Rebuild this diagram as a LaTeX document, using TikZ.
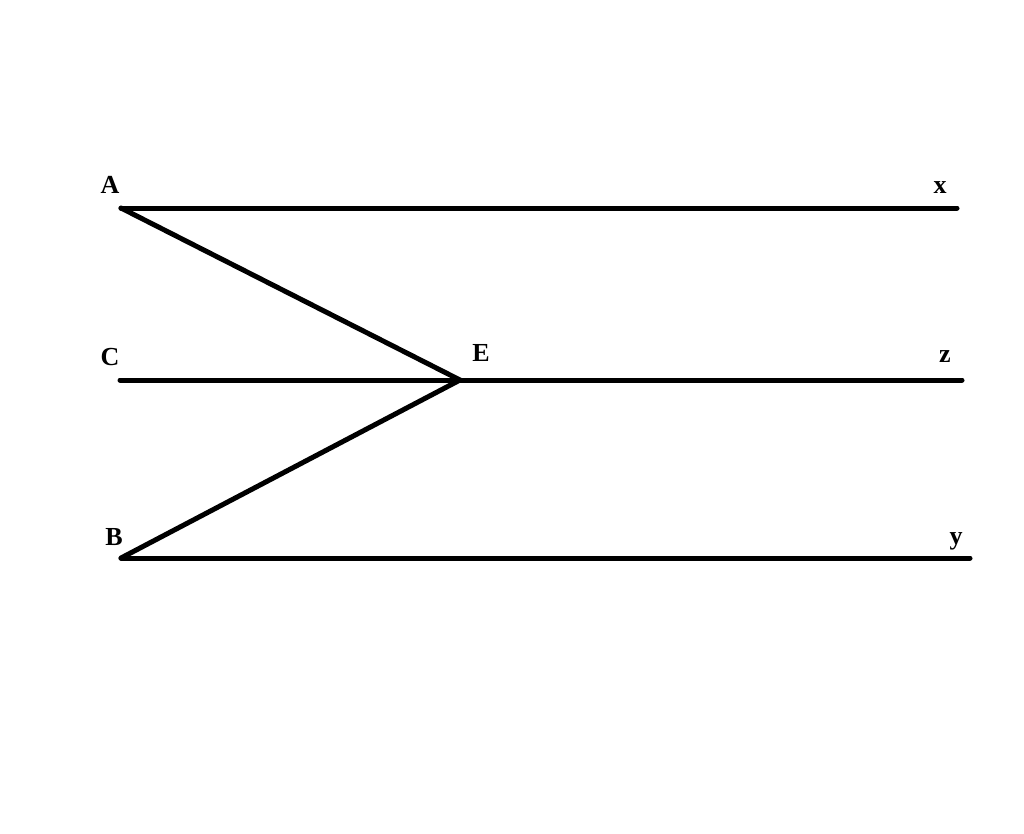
\documentclass[tikz,border=0pt]{standalone}
\usepackage{fontspec}
\setmainfont{Liberation Serif}
\begin{document}
\begin{tikzpicture}[x=1pt,y=-1pt,ln/.style={line width=5pt,line cap=round},lab/.style={font=\fontsize{26}{26}\selectfont\bfseries,inner sep=0pt}]
\useasboundingbox (0,0) rectangle (1024,833);
\coordinate (A) at (121,208); \coordinate (X) at (957,208);
\coordinate (C) at (120,380); \coordinate (E) at (460,380); \coordinate (Z) at (962,380);
\coordinate (B) at (121,558); \coordinate (Y) at (970,558);
\draw[ln] (A)--(X); \draw[ln] (C)--(Z); \draw[ln] (B)--(Y);
\draw[ln,line join=miter] (A)--(E)--(B);
\node[lab] (lA) at (110,185) {A};
\node[lab] (lx) at (940,188) {x};
\node[lab] (lC) at (110,357) {C};
\node[lab] (lE) at (481,353) {E};
\node[lab] (lz) at (945,357) {z};
\node[lab] (lB) at (114,537) {B};
\node[lab] (ly) at (956,541) {y};
\end{tikzpicture}
\end{document}
